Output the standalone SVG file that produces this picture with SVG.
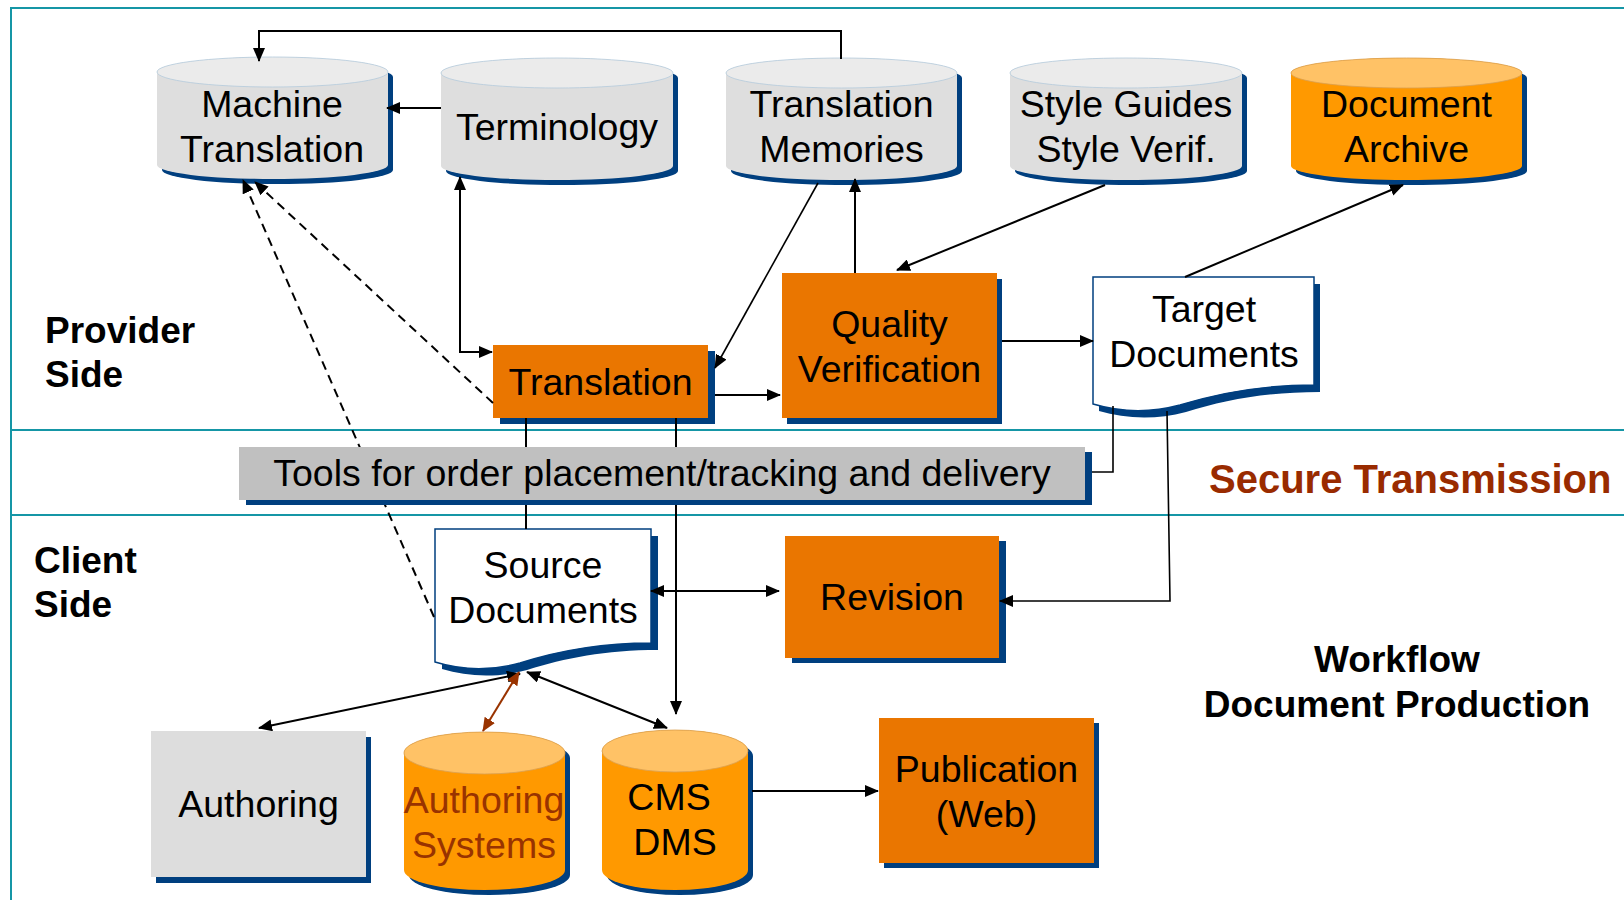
<svg xmlns="http://www.w3.org/2000/svg" width="1624" height="900" viewBox="0 0 1624 900">
<style>
.t{font-family:"Liberation Sans",Arial,sans-serif;font-size:37.5px;fill:#000;text-anchor:middle}
.b{font-family:"Liberation Sans",Arial,sans-serif;font-size:37px;font-weight:bold;fill:#000}
.sh{fill:#003F7F}
.gbody{fill:#DEDEDE}
.gtop{fill:#EBEBEB;stroke:#B4CADC;stroke-width:0.8}
.obody{fill:#FF9900}
.otop{fill:#FFC266;stroke:#D9A050;stroke-width:0.8}
.box{fill:#EA7600}
.doc{fill:#FFFFFF;stroke:#003F7F;stroke-width:1.5}
.sec{stroke:#1596A6;stroke-width:2;fill:none}
.c{fill:none;stroke:#000;stroke-width:2}
.thin{fill:none;stroke:#000;stroke-width:1.6}
.d{fill:none;stroke:#000;stroke-width:2;stroke-dasharray:9 6}
.r{fill:none;stroke:#993300;stroke-width:2}
</style>
<defs>
<marker id="a" viewBox="0 0 14 12" refX="13" refY="6" markerWidth="14" markerHeight="12" markerUnits="userSpaceOnUse" orient="auto-start-reverse"><path d="M0,0 L14,6 L0,12 Z" fill="#000"/></marker>
<marker id="ar" viewBox="0 0 14 12" refX="13" refY="6" markerWidth="14" markerHeight="12" markerUnits="userSpaceOnUse" orient="auto-start-reverse"><path d="M0,0 L14,6 L0,12 Z" fill="#993300"/></marker>
</defs>
<rect x="0" y="0" width="1624" height="900" fill="#FFFFFF"/>
<g id="sections">
<path class="sec" d="M11,900 V8 H1624"/>
<path class="sec" d="M11,430 H1624"/>
<path class="sec" d="M11,515 H1624"/>
</g>
<g id="labels">
<text class="b" x="45" y="343">Provider</text>
<text class="b" x="45" y="387">Side</text>
<text class="b" x="34" y="573">Client</text>
<text class="b" x="34" y="617">Side</text>
<text class="b" x="1209" y="493" style="font-size:40px;fill:#992B00">Secure Transmission</text>
<text class="b" x="1397" y="672" text-anchor="middle">Workflow</text>
<text class="b" x="1397" y="717" text-anchor="middle">Document Production</text>
</g>
<g id="machine-translation">
<path class="sh" transform="translate(5,5)" d="M157,72 V165 A115.5,14 0 0 0 388,165 V72 A115.5,15 0 0 0 157,72 Z"/>
<path class="gbody" d="M157,72 V165 A115.5,14 0 0 0 388,165 V72 A115.5,15 0 0 0 157,72 Z"/>
<ellipse class="gtop" cx="272.5" cy="72" rx="115.5" ry="15"/>
<text class="t" x="272" y="117">Machine</text>
<text class="t" x="272" y="162">Translation</text>
</g>
<g id="terminology">
<path class="sh" transform="translate(5,5)" d="M441,73 V166 A116,14 0 0 0 673,166 V73 A116,15 0 0 0 441,73 Z"/>
<path class="gbody" d="M441,73 V166 A116,14 0 0 0 673,166 V73 A116,15 0 0 0 441,73 Z"/>
<ellipse class="gtop" cx="557" cy="73" rx="116" ry="15"/>
<text class="t" x="557" y="140">Terminology</text>
</g>
<g id="translation-memories">
<path class="sh" transform="translate(5,5)" d="M726,73 V166 A115.5,14 0 0 0 957,166 V73 A115.5,15 0 0 0 726,73 Z"/>
<path class="gbody" d="M726,73 V166 A115.5,14 0 0 0 957,166 V73 A115.5,15 0 0 0 726,73 Z"/>
<ellipse class="gtop" cx="841.5" cy="73" rx="115.5" ry="15"/>
<text class="t" x="841.5" y="117">Translation</text>
<text class="t" x="841.5" y="162">Memories</text>
</g>
<g id="style-guides">
<path class="sh" transform="translate(5,5)" d="M1010,73 V166 A116,14 0 0 0 1242,166 V73 A116,15 0 0 0 1010,73 Z"/>
<path class="gbody" d="M1010,73 V166 A116,14 0 0 0 1242,166 V73 A116,15 0 0 0 1010,73 Z"/>
<ellipse class="gtop" cx="1126" cy="73" rx="116" ry="15"/>
<text class="t" x="1126" y="117">Style Guides</text>
<text class="t" x="1126" y="162">Style Verif.</text>
</g>
<g id="document-archive">
<path class="sh" transform="translate(5,5)" d="M1291,73 V166 A115.5,14 0 0 0 1522,166 V73 A115.5,15 0 0 0 1291,73 Z"/>
<path class="obody" d="M1291,73 V166 A115.5,14 0 0 0 1522,166 V73 A115.5,15 0 0 0 1291,73 Z"/>
<ellipse class="otop" cx="1406.5" cy="73" rx="115.5" ry="15"/>
<text class="t" x="1406.5" y="117">Document</text>
<text class="t" x="1406.5" y="162">Archive</text>
</g>
<g id="translation">
<rect class="sh" x="500" y="351" width="215" height="73"/>
<rect class="box" x="493" y="345" width="215" height="73"/>
<text class="t" x="600.5" y="395">Translation</text>
</g>
<g id="quality-verification">
<rect class="sh" x="787" y="279" width="215" height="145"/>
<rect class="box" x="782" y="273" width="215" height="145"/>
<text class="t" x="889.5" y="337">Quality</text>
<text class="t" x="889.5" y="382">Verification</text>
</g>
<g id="target-documents">
<path class="sh" transform="translate(6,7)" d="M1093,277 H1314 V385 C1260,385 1219,393 1180,405 C1150,413 1120,412 1093,404 Z"/>
<path class="doc" d="M1093,277 H1314 V385 C1260,385 1219,393 1180,405 C1150,413 1120,412 1093,404 Z"/>
<text class="t" x="1204" y="322">Target</text>
<text class="t" x="1204" y="367">Documents</text>
</g>
<g id="revision">
<rect class="sh" x="792" y="541" width="214" height="122"/>
<rect class="box" x="785" y="536" width="214" height="122"/>
<text class="t" x="892" y="610">Revision</text>
</g>
<g id="source-documents">
<path class="sh" transform="translate(7,7)" d="M435,529 H651 V643 C598,643 558,651 520,663 C491,671 461,670 435,662 Z"/>
<path class="doc" d="M435,529 H651 V643 C598,643 558,651 520,663 C491,671 461,670 435,662 Z"/>
<text class="t" x="543" y="578">Source</text>
<text class="t" x="543" y="623">Documents</text>
</g>
<g id="authoring">
<rect class="sh" x="156" y="737" width="215" height="146"/>
<rect x="151" y="731" width="215" height="146" fill="#DDDDDD"/>
<text class="t" x="258.5" y="817">Authoring</text>
</g>
<g id="authoring-systems">
<path class="sh" transform="translate(5,5)" d="M404,753 V870 A80.5,20 0 0 0 565,870 V753 A80.5,21 0 0 0 404,753 Z"/>
<path class="obody" d="M404,753 V870 A80.5,20 0 0 0 565,870 V753 A80.5,21 0 0 0 404,753 Z"/>
<ellipse class="otop" cx="484.5" cy="753" rx="80.5" ry="21"/>
<text class="t" x="484" y="813" style="fill:#993300">Authoring</text>
<text class="t" x="484" y="858" style="fill:#993300">Systems</text>
</g>
<g id="cms-dms">
<path class="sh" transform="translate(5,5)" d="M602,751 V870 A73,20 0 0 0 748,870 V751 A73,21 0 0 0 602,751 Z"/>
<path class="obody" d="M602,751 V870 A73,20 0 0 0 748,870 V751 A73,21 0 0 0 602,751 Z"/>
<ellipse class="otop" cx="675" cy="751" rx="73" ry="21"/>
<text class="t" x="669" y="810">CMS</text>
<text class="t" x="675" y="855">DMS</text>
</g>
<g id="publication">
<rect class="sh" x="884" y="723" width="215" height="145"/>
<rect class="box" x="879" y="718" width="215" height="145"/>
<text class="t" x="986.5" y="782">Publication</text>
<text class="t" x="986.5" y="827">(Web)</text>
</g>
<g id="connectors">
<path class="c" d="M841,59 V31 H259 V61" marker-end="url(#a)"/>
<path class="c" d="M441,108 H387" marker-end="url(#a)"/>
<path class="c" d="M460,177 V352 H492" marker-start="url(#a)" marker-end="url(#a)"/>
<path class="thin" d="M818,183 L715,368" marker-end="url(#a)"/>
<path class="c" d="M715,395 H780" marker-end="url(#a)"/>
<path class="c" d="M855,273 V179" marker-end="url(#a)"/>
<path class="c" d="M1105,185 L897,270" marker-end="url(#a)"/>
<path class="c" d="M1002,341 H1093" marker-end="url(#a)"/>
<path class="c" d="M1185,277 L1403,185" marker-end="url(#a)"/>
<path class="d" d="M493,403 L255,182" marker-end="url(#a)"/>
<path class="d" d="M434,617 L243,180" marker-end="url(#a)"/>
<path class="c" d="M526,418 V529"/>
<path class="c" d="M676,418 V714" marker-end="url(#a)"/>
<path class="thin" d="M1113,406 V472 H1092"/>
<path class="thin" d="M1167,411 L1170,601 H1000" marker-end="url(#a)"/>
<path class="c" d="M651,591 H779" marker-start="url(#a)" marker-end="url(#a)"/>
<path class="c" d="M520,674 L259,728" marker-start="url(#a)" marker-end="url(#a)"/>
<path class="r" d="M519,672 L483,731" marker-start="url(#ar)" marker-end="url(#ar)"/>
<path class="c" d="M527,672 L667,728" marker-start="url(#a)" marker-end="url(#a)"/>
<path class="c" d="M752,791 H878" marker-end="url(#a)"/>
</g>
<g id="tools">
<rect class="sh" x="246" y="452" width="846" height="53"/>
<rect x="239" y="447" width="846" height="53" fill="#C0C0C0"/>
<text class="t" x="662" y="486" style="font-size:37.5px">Tools for order placement/tracking and delivery</text>
</g>
</svg>
